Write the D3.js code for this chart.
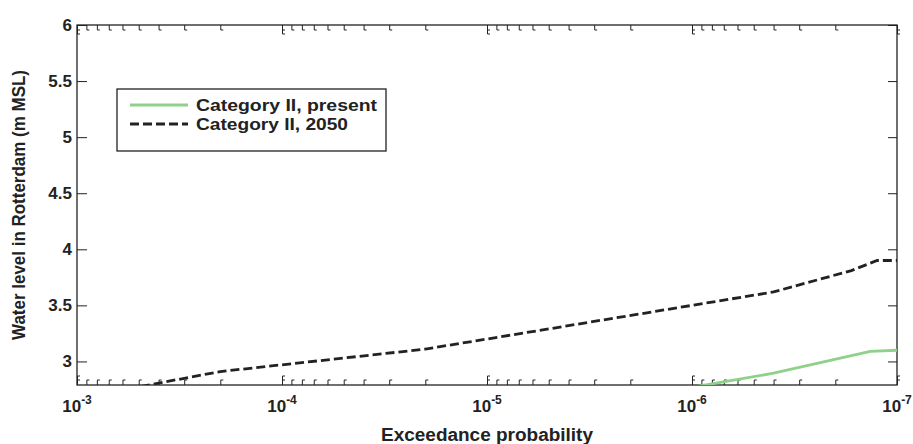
<!DOCTYPE html>
<html>
<head>
<meta charset="utf-8">
<script src="https://cdn.jsdelivr.net/npm/d3@7/dist/d3.min.js"></script>
<style>
  html, body { margin: 0; padding: 0; background: #fff; }
  svg { display: block; font-family: "Liberation Sans", Arial, Helvetica, sans-serif; }
  .axis path.domain { display: none; }
  .axis line { stroke: #222; stroke-width: 1; }
</style>
</head>
<body>
<svg id="chart" width="913" height="444"></svg>
<script>
// Exceedance probabilities and water levels (m MSL)
const probs2050 = [1e-3, 2e-4, 1e-4, 2e-5, 1e-5, 1e-6, 4e-7, 1.67e-7, 1.25e-7, 1e-7];
const level2050 = [2.67, 2.91, 2.97, 3.11, 3.20, 3.50, 3.62, 3.81, 3.90, 3.90];
const probsPresent = [1e-6, 4e-7, 1.35e-7, 1e-7];
const levelPresent = [2.77, 2.895, 3.09, 3.10];

const seriesNames = ["Category II, present", "Category II, 2050"];
const xMajorTicks = [1e-3, 1e-4, 1e-5, 1e-6, 1e-7];
const xTickExponents = ["-3", "-4", "-5", "-6", "-7"];
const yTicks = [3, 3.5, 4, 4.5, 5, 5.5, 6];
const yTickLabels = ["3", "3.5", "4", "4.5", "5", "5.5", "6"];
const xTitle = "Exceedance probability";
const yTitle = "Water level in Rotterdam (m MSL)";

const svg = d3.select("#chart");
const plotL = 77, plotR = 897, plotT = 25, plotB = 385;

const x = d3.scaleLog().domain([1e-3, 1e-7]).range([plotL, plotR]);
const y = d3.scaleLinear().domain([2.79, 6]).range([plotB, plotT]);

const ink = "#222";
const green = "#8fd18a";
const minorX = x.ticks().filter(v => !xMajorTicks.some(m => Math.abs(m - v) / m < 1e-6));

// widen a bold label horizontally to the given width
function fitWidth(sel, w) {
  sel.attr("textLength", w).attr("lengthAdjust", "spacingAndGlyphs");
}

// clip region for the data lines
svg.append("defs").append("clipPath").attr("id", "plotClip")
  .append("rect").attr("x", plotL).attr("y", plotT)
  .attr("width", plotR - plotL).attr("height", plotB - plotT);

// frame
svg.append("rect").attr("x", plotL).attr("y", plotT)
  .attr("width", plotR - plotL).attr("height", plotB - plotT)
  .attr("fill", "none").attr("stroke", ink).attr("stroke-width", 1.3);

// x axes: major and minor ticks pointing inward, bottom and top
function xAxisGroup(isBottom, ty, vals, len, major) {
  const axisFn = isBottom ? d3.axisBottom : d3.axisTop;
  const g = svg.append("g").attr("class", "axis").attr("transform", `translate(0,${ty})`)
    .call(axisFn(x).tickValues(vals).tickSize(-len).tickSizeOuter(0).tickFormat(""));
  const sgn = isBottom ? -1 : 1;
  // small hooks at the tick tips
  const hooks = major ? [len, 5] : [len];
  hooks.forEach(h => {
    g.selectAll(".tick").append("line")
      .attr("x1", 0).attr("x2", 2.5)
      .attr("y1", sgn * h).attr("y2", sgn * h);
  });
  return g;
}
xAxisGroup(true, plotB, xMajorTicks, 9, true);
xAxisGroup(true, plotB, minorX, 5, false);
xAxisGroup(false, plotT, xMajorTicks, 9, true);
xAxisGroup(false, plotT, minorX, 5, false);

// decade labels with superscript exponents
const labelG = svg.append("g").attr("fill", ink).attr("font-weight", "bold");
xMajorTicks.forEach((v, i) => {
  const t = labelG.append("text").attr("x", x(v)).attr("y", 412)
    .attr("text-anchor", "middle").attr("font-size", 17);
  t.append("tspan").text("10");
  t.append("tspan").attr("font-size", 12).attr("dy", -8).text(xTickExponents[i]);
});

// y axes
const yAxisLeft = svg.append("g").attr("class", "axis").attr("transform", `translate(${plotL},0)`)
  .call(d3.axisLeft(y).tickValues(yTicks).tickSize(-10).tickSizeOuter(0).tickPadding(5)
    .tickFormat((d, i) => yTickLabels[i]));
yAxisLeft.selectAll("text").attr("fill", ink).attr("font-size", 17).attr("font-weight", "bold")
  .attr("font-family", "Liberation Sans, Arial, sans-serif").attr("dy", "0.3em");
svg.append("g").attr("class", "axis").attr("transform", `translate(${plotR},0)`)
  .call(d3.axisRight(y).tickValues(yTicks).tickSize(-9).tickSizeOuter(0).tickFormat(""));

// axis titles
svg.append("text").attr("x", (plotL + plotR) / 2).attr("y", 441)
  .attr("text-anchor", "middle").attr("font-size", 18).attr("font-weight", "bold")
  .attr("fill", ink).text(xTitle).call(fitWidth, 212);
svg.append("text")
  .attr("transform", `translate(25,${(plotT + plotB) / 2}) rotate(-90)`)
  .attr("text-anchor", "middle").attr("font-size", 18).attr("font-weight", "bold")
  .attr("fill", ink).text(yTitle).call(fitWidth, 270);

// data lines
const line = d3.line().x(d => x(d[0])).y(d => y(d[1]));
const plot = svg.append("g").attr("clip-path", "url(#plotClip)");
plot.append("path")
  .datum(probs2050.map((p, i) => [p, level2050[i]]))
  .attr("d", line).attr("fill", "none")
  .attr("stroke", ink).attr("stroke-width", 2.8).attr("stroke-dasharray", "9,4");
plot.append("path")
  .datum(probsPresent.map((p, i) => [p, levelPresent[i]]))
  .attr("d", line).attr("fill", "none")
  .attr("stroke", green).attr("stroke-width", 2.8);

// legend
const lg = svg.append("g");
lg.append("rect").attr("x", 117).attr("y", 89).attr("width", 269).attr("height", 62)
  .attr("fill", "#fff").attr("stroke", ink).attr("stroke-width", 1.3);
const legendStyles = [
  { stroke: green, dash: null, width: 181 },
  { stroke: ink, dash: "9,4", width: 152 }
];
seriesNames.forEach((name, i) => {
  const yy = 105 + i * 19;
  lg.append("line").attr("x1", 130).attr("x2", 188).attr("y1", yy).attr("y2", yy)
    .attr("stroke", legendStyles[i].stroke).attr("stroke-width", 2.8)
    .attr("stroke-dasharray", legendStyles[i].dash);
  lg.append("text").attr("x", 196).attr("y", yy + 5.5)
    .attr("font-size", 16).attr("font-weight", "bold").attr("fill", ink).text(name)
    .call(fitWidth, legendStyles[i].width);
});
</script>
</body>
</html>
